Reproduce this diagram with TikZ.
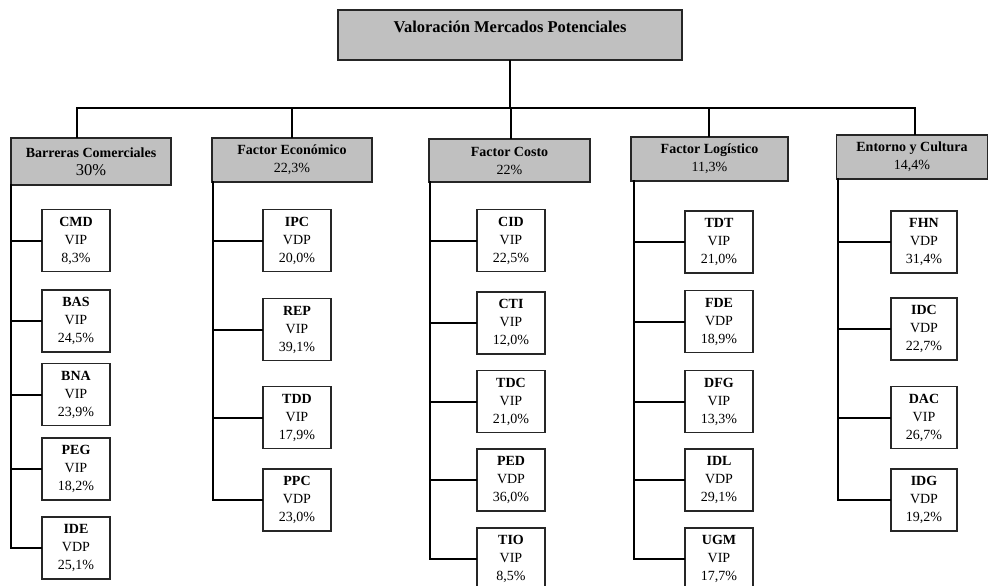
\documentclass[tikz,border=0pt]{standalone}
\usepackage{fontspec}
\setmainfont{Liberation Serif}
\definecolor{boxgray}{HTML}{C0C0C0}
\definecolor{edge}{HTML}{262626}
\begin{document}
\begin{tikzpicture}[x=1pt,y=-1pt,
  boxline/.style={draw=edge, line width=1.3pt},
  subbox/.style={boxline, fill=white, minimum width=68pt, minimum height=62pt, inner sep=0pt, align=center, font=\fontsize{14}{18}\selectfont},
  catbox/.style={boxline, fill=boxgray, inner sep=0pt, align=center, font=\fontsize{14}{18}\selectfont},
  conn/.style={line width=2pt, line cap=rect, draw=black}
]
\clip (0,0) rectangle (988,586);
\fill[white] (0,0) rectangle (988,586);

% title
\node[catbox, minimum width=344pt, minimum height=50pt, text height=12pt, text depth=17pt,
      font=\fontsize{16.5}{20}\selectfont\bfseries] (top) at (510,35) {Valoración Mercados Potenciales};

% categories
\node[catbox, minimum width=160pt, minimum height=47pt] (bar) at (91,161.5)
  {\textbf{Barreras Comerciales}\\{\fontsize{16.5}{19}\selectfont 30\%}};
\node[catbox, minimum width=160pt, minimum height=44pt] (eco) at (292,160)
  {\textbf{Factor Económico}\\22,3\%};
\node[catbox, minimum width=161pt, minimum height=43pt] (cos) at (509.5,160.5)
  {\textbf{Factor Costo}\\22\%};
\node[catbox, minimum width=157pt, minimum height=44pt] (log) at (709.5,159)
  {\textbf{Factor Logístico}\\11,3\%};
\node[catbox, minimum width=151pt, minimum height=44pt] (ent) at (912,157)
  {\textbf{Entorno y Cultura}\\14,4\%};

% Barreras children
\node[subbox] (cmd) at (76,240.5) {\textbf{CMD}\\VIP\\8,3\%};
\node[subbox] (bas) at (76,321) {\textbf{BAS}\\VIP\\24,5\%};
\node[subbox] (bna) at (76,394.5) {\textbf{BNA}\\VIP\\23,9\%};
\node[subbox] (peg) at (76,469) {\textbf{PEG}\\VIP\\18,2\%};
\node[subbox] (ide) at (76,548) {\textbf{IDE}\\VDP\\25,1\%};

% Economico children
\node[subbox] (ipc) at (297,240.5) {\textbf{IPC}\\VDP\\20,0\%};
\node[subbox] (rep) at (297,329.5) {\textbf{REP}\\VIP\\39,1\%};
\node[subbox] (tdd) at (297,417.5) {\textbf{TDD}\\VIP\\17,9\%};
\node[subbox] (ppc) at (297,500) {\textbf{PPC}\\VDP\\23,0\%};

% Costo children
\node[subbox] (cid) at (511,240.5) {\textbf{CID}\\VIP\\22,5\%};
\node[subbox] (cti) at (511,323) {\textbf{CTI}\\VIP\\12,0\%};
\node[subbox] (tdc) at (511,401.5) {\textbf{TDC}\\VIP\\21,0\%};
\node[subbox] (ped) at (511,480) {\textbf{PED}\\VDP\\36,0\%};
\node[subbox] (tio) at (511,559) {\textbf{TIO}\\VIP\\8,5\%};

% Logistico children
\node[subbox] (tdt) at (719,242) {\textbf{TDT}\\VIP\\21,0\%};
\node[subbox] (fde) at (719,321.5) {\textbf{FDE}\\VDP\\18,9\%};
\node[subbox] (dfg) at (719,401.5) {\textbf{DFG}\\VIP\\13,3\%};
\node[subbox] (idl) at (719,480) {\textbf{IDL}\\VDP\\29,1\%};
\node[subbox] (ugm) at (719,559) {\textbf{UGM}\\VIP\\17,7\%};

% Entorno children
\node[subbox, minimum width=66pt] (fhn) at (924,242) {\textbf{FHN}\\VDP\\31,4\%};
\node[subbox, minimum width=66pt] (idc) at (924,329) {\textbf{IDC}\\VDP\\22,7\%};
\node[subbox, minimum width=66pt] (dac) at (924,417.5) {\textbf{DAC}\\VIP\\26,7\%};
\node[subbox, minimum width=66pt] (idg) at (924,500) {\textbf{IDG}\\VDP\\19,2\%};

% bus
\coordinate (d1) at (77,108);
\coordinate (d2) at (292,108);
\coordinate (d3) at (511,108);
\coordinate (d4) at (709,108);
\coordinate (d5) at (915,108);
\draw[conn] (top.south) -- (top.south |- d1);
\draw[conn] (d1) -- (d5);
\draw[conn] (d1) -- (d1 |- bar.north);
\draw[conn] (d2) -- (d2 |- eco.north);
\draw[conn] (d3) -- (d3 |- cos.north);
\draw[conn] (d4) -- (d4 |- log.north);
\draw[conn] (d5) -- (d5 |- ent.north);

% trunks
\coordinate (t1) at (11,185);
\coordinate (t2) at (213,182);
\coordinate (t3) at (430,182);
\coordinate (t4) at (634,181);
\coordinate (t5) at (838,179);

\draw[conn] (t1) -- (t1 |- ide.west) -- (ide.west);
\foreach \n in {cmd,bas,bna,peg} \draw[conn] (\n.west) -- (\n.west -| t1);

\draw[conn] (t2) -- (t2 |- ppc.west) -- (ppc.west);
\foreach \n in {ipc,rep,tdd} \draw[conn] (\n.west) -- (\n.west -| t2);

\draw[conn] (t3) -- (t3 |- tio.west) -- (tio.west);
\foreach \n in {cid,cti,tdc,ped} \draw[conn] (\n.west) -- (\n.west -| t3);

\draw[conn] (t4) -- (t4 |- ugm.west) -- (ugm.west);
\foreach \n in {tdt,fde,dfg,idl} \draw[conn] (\n.west) -- (\n.west -| t4);

\draw[conn] (t5) -- (t5 |- idg.west) -- (idg.west);
\foreach \n in {fhn,idc,dac} \draw[conn] (\n.west) -- (\n.west -| t5);
\end{tikzpicture}
\end{document}
